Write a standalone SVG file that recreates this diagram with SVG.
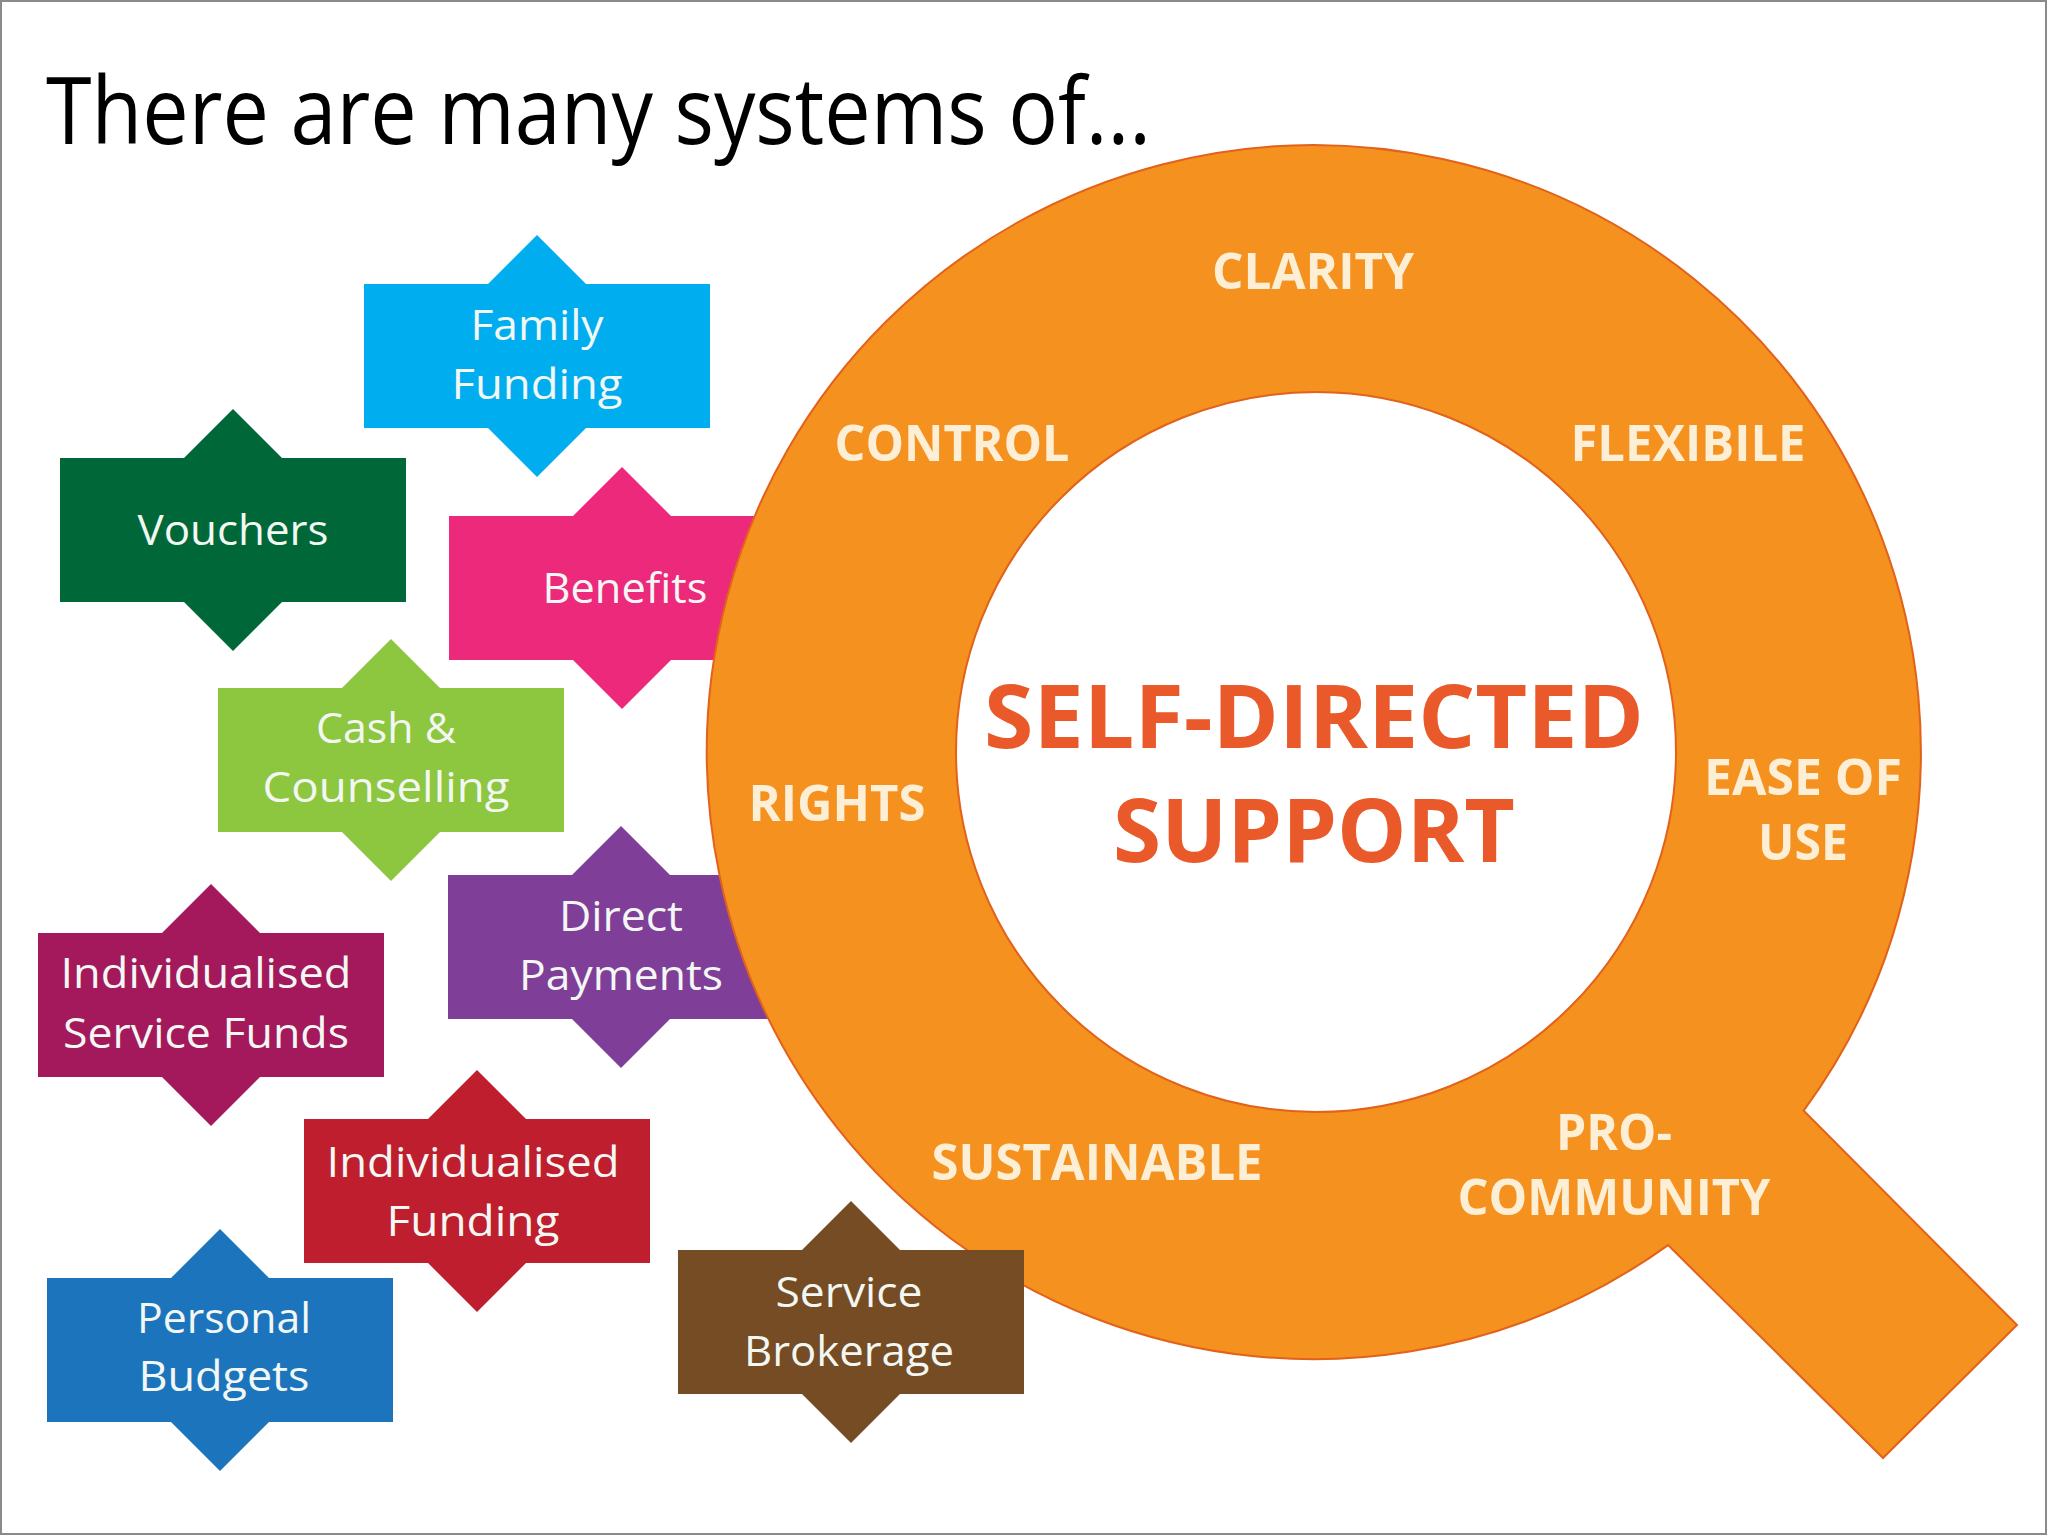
<svg xmlns="http://www.w3.org/2000/svg" xmlns:xlink="http://www.w3.org/1999/xlink" width="2048" height="1536" viewBox="0 0 2048 1536">
<style>
.t{font-family:"Open Sans","Noto Sans","Liberation Sans",sans-serif;font-size:42px;fill:#F3F7F3;text-anchor:middle}
.q{font-family:"Open Sans","Noto Sans","Liberation Sans",sans-serif;font-weight:bold;font-size:50px;fill:#FDEED6;text-anchor:middle}
.c{font-family:"Open Sans","Noto Sans","Liberation Sans",sans-serif;font-weight:bold;font-size:88px;fill:#E9592A;text-anchor:middle}
.title{font-family:"Open Sans","Noto Sans","Liberation Sans",sans-serif;font-size:94px;fill:#000}
</style>
<defs>
<g id="badge">
<rect x="-173" y="-72" width="346" height="144"/>
<polygon points="0,-121 121,0 0,121 -121,0"/>
</g>
</defs>
<rect x="0" y="0" width="2048" height="1536" fill="#fff"/>
<rect x="1" y="1" width="2045" height="1533" fill="none" stroke="#8a8a8a" stroke-width="2"/>
<text class="title" x="46" y="144" textLength="1105" lengthAdjust="spacingAndGlyphs">There are many systems of...</text>

<g id="node-family-funding">
<use xlink:href="#badge" transform="translate(537,356)" fill="#00AEEF"/>
<text class="t" x="537" y="340" textLength="133" lengthAdjust="spacingAndGlyphs">Family</text>
<text class="t" x="537" y="399" textLength="171" lengthAdjust="spacingAndGlyphs">Funding</text>
</g>
<g id="node-vouchers">
<use xlink:href="#badge" transform="translate(233,530)" fill="#006838"/>
<text class="t" x="233" y="545" textLength="191" lengthAdjust="spacingAndGlyphs">Vouchers</text>
</g>
<g id="node-benefits">
<use xlink:href="#badge" transform="translate(622,588)" fill="#EC297B"/>
<text class="t" x="625" y="603" textLength="165" lengthAdjust="spacingAndGlyphs">Benefits</text>
</g>
<g id="node-cash-counselling">
<use xlink:href="#badge" transform="translate(391,760)" fill="#8DC63F"/>
<text class="t" x="386" y="743" textLength="140" lengthAdjust="spacingAndGlyphs">Cash &amp;</text>
<text class="t" x="386" y="802" textLength="247" lengthAdjust="spacingAndGlyphs">Counselling</text>
</g>
<g id="node-individualised-service-funds">
<use xlink:href="#badge" transform="translate(211,1005)" fill="#A3195B"/>
<text class="t" x="206" y="988" textLength="291" lengthAdjust="spacingAndGlyphs">Individualised</text>
<text class="t" x="206" y="1048" textLength="286" lengthAdjust="spacingAndGlyphs">Service Funds</text>
</g>
<g id="node-direct-payments">
<use xlink:href="#badge" transform="translate(621,947)" fill="#7F3F98"/>
<text class="t" x="621" y="931" textLength="124" lengthAdjust="spacingAndGlyphs">Direct</text>
<text class="t" x="621" y="990" textLength="204" lengthAdjust="spacingAndGlyphs">Payments</text>
</g>
<g id="node-individualised-funding">
<use xlink:href="#badge" transform="translate(477,1191)" fill="#BE1E2D"/>
<text class="t" x="473" y="1177" textLength="293" lengthAdjust="spacingAndGlyphs">Individualised</text>
<text class="t" x="473" y="1236" textLength="173" lengthAdjust="spacingAndGlyphs">Funding</text>
</g>
<g id="node-personal-budgets">
<use xlink:href="#badge" transform="translate(220,1350)" fill="#1C75BC"/>
<text class="t" x="224" y="1333" textLength="174" lengthAdjust="spacingAndGlyphs">Personal</text>
<text class="t" x="224" y="1391" textLength="171" lengthAdjust="spacingAndGlyphs">Budgets</text>
</g>

<g id="node-self-directed-support">
<path d="M1668.1,1245.1 A607,607 0 1 1 1803.7,1110.7 L2017,1325 L1883,1458 Z M956,752 A360,360 0 1 0 1676,752 A360,360 0 1 0 956,752 Z" fill="#F4911F" fill-rule="evenodd" stroke="#E2621B" stroke-width="2"/>
<text class="c" x="1314" y="748" textLength="660" lengthAdjust="spacingAndGlyphs">SELF-DIRECTED</text>
<text class="c" x="1314" y="862" textLength="402" lengthAdjust="spacingAndGlyphs">SUPPORT</text>
<text class="q" x="1313" y="289" textLength="202" lengthAdjust="spacingAndGlyphs">CLARITY</text>
<text class="q" x="952" y="461" textLength="235" lengthAdjust="spacingAndGlyphs">CONTROL</text>
<text class="q" x="1688" y="461" textLength="235" lengthAdjust="spacingAndGlyphs">FLEXIBILE</text>
<text class="q" x="837" y="821" textLength="177" lengthAdjust="spacingAndGlyphs">RIGHTS</text>
<text class="q" x="1803" y="795" textLength="198" lengthAdjust="spacingAndGlyphs">EASE OF</text>
<text class="q" x="1803" y="860" textLength="90" lengthAdjust="spacingAndGlyphs">USE</text>
<text class="q" x="1097" y="1180" textLength="331" lengthAdjust="spacingAndGlyphs">SUSTAINABLE</text>
<text class="q" x="1614" y="1150" textLength="116" lengthAdjust="spacingAndGlyphs">PRO-</text>
<text class="q" x="1614" y="1215" textLength="313" lengthAdjust="spacingAndGlyphs">COMMUNITY</text>
</g>

<g id="node-service-brokerage">
<use xlink:href="#badge" transform="translate(851,1322)" fill="#754C24"/>
<text class="t" x="849" y="1307" textLength="147" lengthAdjust="spacingAndGlyphs">Service</text>
<text class="t" x="849" y="1366" textLength="210" lengthAdjust="spacingAndGlyphs">Brokerage</text>
</g>
</svg>
